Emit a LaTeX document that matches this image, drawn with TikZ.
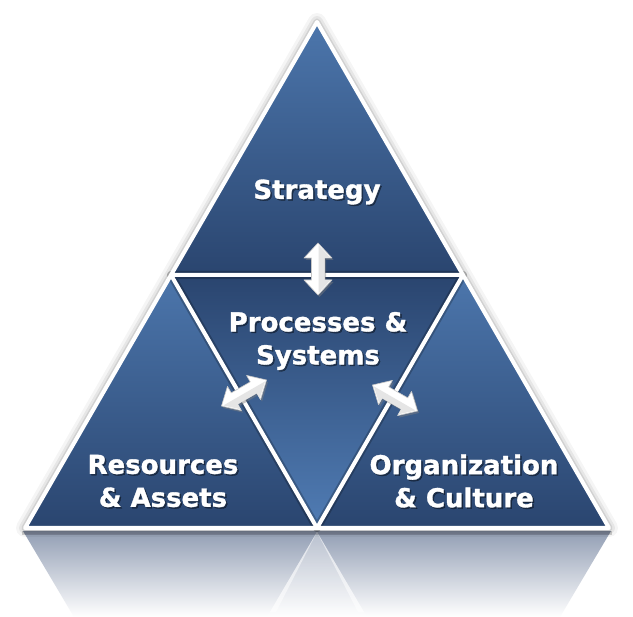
\documentclass[tikz,border=0pt]{standalone}
\usepackage{fontspec}
\newfontfamily\labelfont{DejaVu Sans}[BoldFeatures={FakeBold=1.3}]
\usetikzlibrary{shadows}
\definecolor{tlight}{RGB}{76,118,172}
\definecolor{tmid}{RGB}{58,93,143}
\definecolor{tdark}{RGB}{42,69,111}
\definecolor{clight}{RGB}{80,124,180}
\definecolor{refl}{RGB}{146,158,180}
\tikzset{
  lbl/.style={text=white,font=\labelfont\bfseries\fontsize{26}{33}\selectfont,align=center,inner sep=0pt},
  lblshadow/.style={lbl,text=black,opacity=0.4},
  divline/.style={white,line width=4pt,line join=round,line cap=round},
  divshadow/.style={black,opacity=0.22,line width=8pt,line join=round},
  arrowbody/.style={fill=white,draw=gray!45,line width=0.6pt,line join=round,
     drop shadow={opacity=0.45,shadow xshift=1.5pt,shadow yshift=-2pt}}
}
\newcommand\dblarrowat[2]{%
  \begin{scope}[shift={(#1)},rotate=#2]
    \path[arrowbody] (-26,0) -- (-11,-14) -- (-11,-6.5) -- (11,-6.5) -- (11,-14) -- (26,0)
       -- (11,14) -- (11,6.5) -- (-11,6.5) -- (-11,14) -- cycle;
    \fill[gray!20] (-24,0.5) -- (-11,12.5) -- (-11,6.5) -- (11,6.5) -- (11,12.5) -- (24,0.5) -- cycle;
  \end{scope}}
\begin{document}
\begin{tikzpicture}[x=1pt,y=-1pt]
\useasboundingbox (0,0) rectangle (633,617);
\fill[white] (0,0) rectangle (633,617);
\coordinate (A) at (317,22);
\coordinate (BL) at (25,528);
\coordinate (BR) at (609,528);
\coordinate (ML) at (171,275);
\coordinate (MR) at (463,275);
\coordinate (MB) at (317,528);
% reflection
\shade[top color=refl,bottom color=white] (23,531) -- (611,531) -- (560,617) -- (74,617) -- cycle;
\shade[top color=refl!55!white,bottom color=white,opacity=0.8] (317,532) -- (267,617) -- (367,617) -- cycle;
\fill[white,opacity=0.5] (317,532) -- (270,612) -- (276,612) -- cycle;
\fill[white,opacity=0.5] (317,532) -- (364,612) -- (358,612) -- cycle;
\fill[black,opacity=0.18] (22,531) rectangle (612,535);
% glow
\foreach \w/\o in {18/0.04,12/0.06,7/0.09}
  \draw[black,opacity=\o,line width=\w pt,line join=round] (A) -- (BL) -- (BR) -- cycle;
% triangles
\shade[top color=tlight,bottom color=tdark] (A) -- (ML) -- (MR) -- cycle;
\shade[top color=tlight,bottom color=tdark] (ML) -- (BL) -- (MB) -- cycle;
\shade[top color=tlight,bottom color=tdark] (MR) -- (MB) -- (BR) -- cycle;
\shade[top color=tdark,bottom color=clight] (ML) -- (MR) -- (MB) -- cycle;
% dividing lines
\draw[divshadow] (ML) -- (MR) -- (MB) -- cycle;
\draw[divline] (A) -- (BL) -- (BR) -- cycle;
\draw[divline] (ML) -- (MR) -- (MB) -- cycle;
% arrows
\coordinate (arrTop) at (318,269);
\coordinate (arrLeft) at (244,393);
\coordinate (arrRight) at (395,398);
\dblarrowat{arrTop}{90}
\dblarrowat{arrLeft}{30}
\dblarrowat{arrRight}{-30}
% labels
\node[lblshadow] (strategyS) at (318.5,193.5) {Strategy};
\node[lbl] (strategy) at (317,192) {Strategy};
\node[lblshadow] (procS) at (319.5,342.5) {Processes \&\\Systems};
\node[lbl] (proc) at (318,341) {Processes \&\\Systems};
\node[lblshadow] (resS) at (164.5,482.5) {Resources\\\& Assets};
\node[lbl] (res) at (163,481) {Resources\\\& Assets};
\node[lblshadow] (orgS) at (465.5,482.5) {Organization\\\& Culture};
\node[lbl] (org) at (464,481) {Organization\\\& Culture};
\end{tikzpicture}
\end{document}
